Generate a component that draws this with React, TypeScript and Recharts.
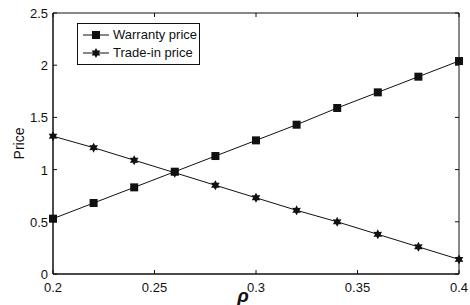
import React from 'react';
import { LineChart, Line, XAxis, YAxis, Legend, ReferenceArea, ReferenceLine } from 'recharts';

const rho = [0.2, 0.22, 0.24, 0.26, 0.28, 0.3, 0.32, 0.34, 0.36, 0.38, 0.4];
const warrantyPrice = [0.53, 0.68, 0.83, 0.98, 1.13, 1.28, 1.43, 1.59, 1.74, 1.89, 2.04];
const tradeInPrice = [1.32, 1.21, 1.09, 0.97, 0.85, 0.73, 0.61, 0.5, 0.38, 0.26, 0.14];
const xTicks = [0.2, 0.25, 0.3, 0.35, 0.4];
const yTicks = [0, 0.5, 1, 1.5, 2, 2.5];

const data = rho.map((r, i) => ({ rho: r, warranty: warrantyPrice[i], tradein: tradeInPrice[i] }));

const FONT = '"Liberation Sans", Arial, sans-serif';
const INK = '#111';
const TICK = 4;
const X_MIN = 0.2;
const X_MAX = 0.4;
const Y_MIN = 0;
const Y_MAX = 2.5;

// filled square marker
const SquareDot = (props: any) => {
  const { cx, cy } = props;
  if (cx == null || cy == null) return null;
  return <rect x={cx - 4} y={cy - 4} width={8} height={8} fill={INK} />;
};

// hexagram marker (6-point star)
const starPath = (cx: number, cy: number, R: number, r: number) => {
  const pts: string[] = [];
  for (let k = 0; k < 12; k++) {
    const a = (Math.PI / 6) * k - Math.PI / 2;
    const rad = k % 2 === 0 ? R : r;
    pts.push(`${cx + rad * Math.cos(a)},${cy + rad * Math.sin(a)}`);
  }
  return pts.join(' ');
};

const StarDot = (props: any) => {
  const { cx, cy } = props;
  if (cx == null || cy == null) return null;
  return <polygon points={starPath(cx, cy, 5, 2.8)} fill={INK} />;
};

// ticks drawn inward, MATLAB style
const BottomTick = (props: any) => {
  const { x, y, payload } = props;
  return (
    <g>
      <line x1={x} y1={y} x2={x} y2={y - TICK} stroke={INK} />
      <text x={x} y={y + 18} textAnchor="middle" fontSize={13} fontFamily={FONT} fill={INK}>
        {payload.value}
      </text>
    </g>
  );
};

const LeftTick = (props: any) => {
  const { x, y, payload } = props;
  return (
    <g>
      <line x1={x} y1={y} x2={x + TICK} y2={y} stroke={INK} />
      <text x={x - 5} y={y + 5} textAnchor="end" fontSize={13} fontFamily={FONT} fill={INK}>
        {payload.value}
      </text>
    </g>
  );
};

const LegendBox = () => {
  const row = (label: string, star: boolean) => (
    <div style={{ display: 'flex', alignItems: 'center', height: 18, whiteSpace: 'nowrap' }}>
      <svg width={28} height={12} style={{ marginRight: 3, flex: 'none' }}>
        <line x1={1} y1={6} x2={27} y2={6} stroke={INK} strokeWidth={1} />
        {star ? <polygon points={starPath(14, 6, 5, 2.8)} fill={INK} /> : <rect x={10} y={2} width={8} height={8} fill={INK} />}
      </svg>
      <span>{label}</span>
    </div>
  );
  return (
    <div
      style={{
        border: `1px solid ${INK}`,
        background: '#fff',
        padding: '2px 4px',
        fontFamily: FONT,
        fontSize: 13,
        lineHeight: '18px',
        color: INK,
        width: 123,
        boxSizing: 'border-box',
      }}
    >
      {row('Warranty price', false)}
      {row('Trade-in price', true)}
    </div>
  );
};

const PriceLabel = (props: any) => {
  const { viewBox } = props;
  if (!viewBox) return null;
  const x = 24;
  const y = viewBox.y + viewBox.height / 2;
  return (
    <text x={x} y={y} transform={`rotate(-90, ${x}, ${y})`} textAnchor="middle" fontSize={14} fontFamily={FONT} fill={INK}>
      Price
    </text>
  );
};

const RhoLabel = (props: any) => {
  const { viewBox } = props;
  if (!viewBox) return null;
  const x = viewBox.x + viewBox.width / 2 - 13;
  return (
    <text x={x} y={viewBox.y + 28} textAnchor="middle" fontSize={19} fontWeight="bold" fontStyle="italic" fontFamily={FONT} fill={INK}>
      ρ
    </text>
  );
};

export default function App() {
  const lineStyle = { stroke: INK, strokeWidth: 1 };
  // inward tick length in data units (plot is ~406 x 261 px)
  const dy = ((Y_MAX - Y_MIN) * TICK) / 261;
  const dx = ((X_MAX - X_MIN) * TICK) / 406;
  return (
    <div style={{ position: 'absolute', left: 0, top: 0, background: '#fff' }}>
      <LineChart width={470} height={305} data={data} margin={{ top: 13, right: 11, left: 0, bottom: 0 }}>
        <XAxis
          dataKey="rho"
          type="number"
          domain={[X_MIN, X_MAX]}
          ticks={xTicks}
          tick={<BottomTick />}
          tickSize={0}
          tickMargin={0}
          tickLine={false}
          axisLine={lineStyle}
          height={31}
          label={<RhoLabel />}
        />
        <YAxis
          type="number"
          domain={[Y_MIN, Y_MAX]}
          ticks={yTicks}
          tick={<LeftTick />}
          tickSize={0}
          tickMargin={0}
          tickLine={false}
          axisLine={lineStyle}
          width={53}
          label={<PriceLabel />}
        />
        {/* box around the axes, with inward ticks on top and right */}
        <ReferenceArea x1={X_MIN} x2={X_MAX} y1={Y_MIN} y2={Y_MAX} fill="none" stroke={INK} strokeWidth={1} />
        {xTicks.map((t) => (
          <ReferenceLine key={`tx${t}`} segment={[{ x: t, y: Y_MAX }, { x: t, y: Y_MAX - dy }]} stroke={INK} />
        ))}
        {yTicks.map((t) => (
          <ReferenceLine key={`ty${t}`} segment={[{ x: X_MAX, y: t }, { x: X_MAX - dx, y: t }]} stroke={INK} />
        ))}
        <Legend
          layout="vertical"
          align="center"
          verticalAlign="middle"
          content={<LegendBox />}
          wrapperStyle={{ top: 23, left: 77, width: 123 }}
        />
        <Line
          dataKey="warranty"
          name="Warranty price"
          stroke={INK}
          strokeWidth={1}
          dot={<SquareDot />}
          isAnimationActive={false}
        />
        <Line
          dataKey="tradein"
          name="Trade-in price"
          stroke={INK}
          strokeWidth={1}
          dot={<StarDot />}
          isAnimationActive={false}
        />
      </LineChart>
    </div>
  );
}
